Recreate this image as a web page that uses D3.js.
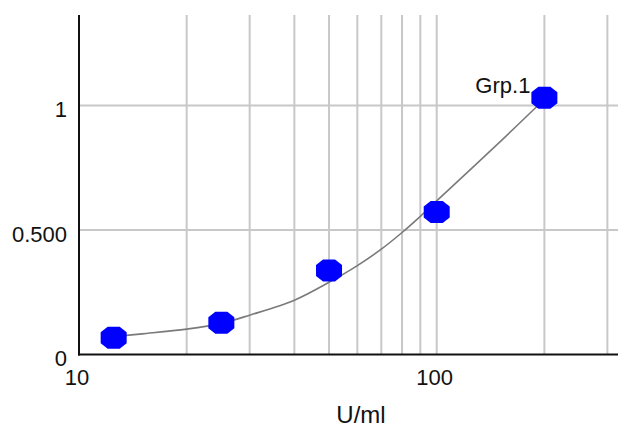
<!DOCTYPE html>
<html>
<head>
<meta charset="utf-8">
<script src="https://cdn.jsdelivr.net/npm/d3@7"></script>
<style>
  html, body { margin: 0; padding: 0; background: #ffffff; }
  svg { display: block; }
  text { font-family: "Liberation Sans", Arial, sans-serif; fill: #111; }
</style>
</head>
<body>
<svg id="chart" width="618" height="427"></svg>
<script>
// ---- data ----
const pointX = [12.5, 25, 50, 100, 200];
const pointY = [0.067, 0.128, 0.337, 0.572, 1.031];
const curveX = [12.5, 15, 20, 25, 30, 40, 50, 60, 70, 80, 90, 100, 150, 200];
const curveY = [0.072, 0.083, 0.102, 0.125, 0.158, 0.218, 0.29, 0.357, 0.423, 0.49, 0.555, 0.617, 0.853, 1.025];
const xGrid = [20, 30, 40, 50, 60, 70, 80, 90, 100, 200, 300];
const yGrid = [0.5, 1];
const xTickValues = [10, 100];
const xTickLabels = ["10", "100"];
const yTickValues = [0, 0.5, 1];
const yTickLabels = ["0", "0.500", "1"];
const seriesLabel = "Grp.1";
const xTitle = "U/ml";

(function () {
// ---- layout ----
const svg = d3.select("#chart");
const pLeft = 79, pRight = 618, pTop = 15, pBottom = 354.5;

const x = d3.scaleLog().domain([10, 100]).range([pLeft, 436.7]);
const y = d3.scaleLinear().domain([0, 1]).range([pBottom, 105.5]);

// grid
svg.append("g").selectAll("line").data(xGrid).join("line")
  .attr("x1", d => x(d)).attr("x2", d => x(d))
  .attr("y1", pTop).attr("y2", pBottom)
  .attr("stroke", "#c8c8c8").attr("stroke-width", 2);
svg.append("g").selectAll("line").data(yGrid).join("line")
  .attr("x1", pLeft).attr("x2", pRight)
  .attr("y1", d => y(d)).attr("y2", d => y(d))
  .attr("stroke", "#c8c8c8").attr("stroke-width", 2);

// axes lines
svg.append("line").attr("x1", pLeft).attr("x2", pLeft).attr("y1", pTop).attr("y2", pBottom + 1)
  .attr("stroke", "#111").attr("stroke-width", 2);
svg.append("line").attr("x1", pLeft - 1).attr("x2", pRight).attr("y1", pBottom).attr("y2", pBottom)
  .attr("stroke", "#111").attr("stroke-width", 2);

// y tick labels
svg.append("g").selectAll("text").data(yTickValues).join("text")
  .attr("x", 67).attr("y", d => y(d) + 4)
  .attr("text-anchor", "end").attr("dominant-baseline", "central")
  .attr("font-size", 22)
  .text((d, i) => yTickLabels[i]);

// x tick labels
svg.append("g").selectAll("text").data(xTickValues).join("text")
  .attr("x", d => x(d) - 2).attr("y", 384.5)
  .attr("text-anchor", "middle")
  .attr("font-size", 22)
  .text((d, i) => xTickLabels[i]);

// x title
svg.append("text").attr("x", 361).attr("y", 423)
  .attr("text-anchor", "middle").attr("font-size", 24)
  .text(xTitle);

// curve
const curveData = curveX.map((d, i) => [d, curveY[i]]);
svg.append("path").datum(curveData)
  .attr("fill", "none").attr("stroke", "#7a7a7a").attr("stroke-width", 1.6)
  .attr("d", d3.line().x(d => x(d[0])).y(d => y(d[1])).curve(d3.curveCatmullRom.alpha(0.5)));

// points (octagons)
const w = 13, h = 11, cx = 7, cy = 5.5;
const oct = `M${-w + cx},${-h} L${w - cx},${-h} L${w},${-h + cy} L${w},${h - cy} L${w - cx},${h} L${-w + cx},${h} L${-w},${h - cy} L${-w},${-h + cy} Z`;
svg.append("g").selectAll("path").data(pointX).join("path")
  .attr("transform", (d, i) => `translate(${x(d)},${y(pointY[i])})`)
  .attr("d", oct)
  .attr("fill", "#0000ff");

// series label
svg.append("text")
  .attr("x", x(pointX[pointX.length - 1]) - 14)
  .attr("y", y(pointY[pointY.length - 1]) - 5)
  .attr("text-anchor", "end").attr("font-size", 22)
  .text(seriesLabel);
})();
</script>
</body>
</html>
